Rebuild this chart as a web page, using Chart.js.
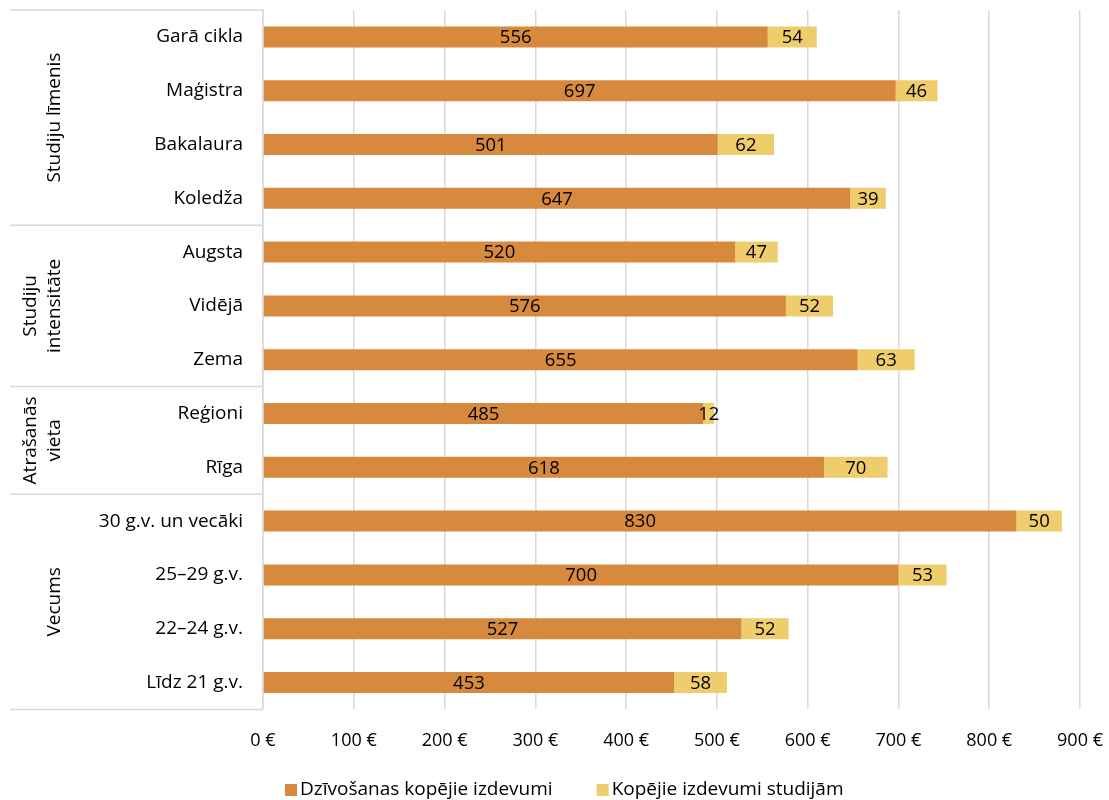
<!DOCTYPE html>
<html>
<head>
<meta charset="utf-8">
<script src="https://cdn.jsdelivr.net/npm/chart.js@4.4.1/dist/chart.umd.min.js"></script>
<style>
  html, body { margin: 0; padding: 0; background: #fff; }
  #wrap { width: 1109px; height: 800px; }
</style>
</head>
<body>
<div id="wrap"><canvas id="grafiks"></canvas></div>
<script>
const kategorijas = ["Garā cikla", "Maģistra", "Bakalaura", "Koledža", "Augsta", "Vidējā", "Zema",
    "Reģioni", "Rīga", "30 g.v. un vecāki", "25–29 g.v.", "22–24 g.v.", "Līdz 21 g.v."];
const dzivosana = [556, 697, 501, 647, 520, 576, 655, 485, 618, 830, 700, 527, 453];
const studijas = [54, 46, 62, 39, 47, 52, 63, 12, 70, 50, 53, 52, 58];
const grupas = [["Studiju līmenis"], ["Studiju", "intensitāte"], ["Atrašanās", "vieta"], ["Vecums"]];
const grupuIzmeri = [4, 3, 2, 4];
const asisTicks = [0, 100, 200, 300, 400, 500, 600, 700, 800, 900];

const fonts = "'Open Sans', 'Noto Sans', sans-serif";

// vērtības joslu vidū
const vertibuPlugin = {
    id: 'vertibas',
    afterDatasetsDraw(chart) {
        const ctx = chart.ctx;
        ctx.save();
        ctx.font = "18.5px " + fonts;
        ctx.fillStyle = "#000";
        ctx.textAlign = "center";
        ctx.textBaseline = "middle";
        chart.data.datasets.forEach((ds, i) => {
            chart.getDatasetMeta(i).data.forEach((bar, j) => {
                const x = (bar.x + bar.base) / 2;
                ctx.fillText(String(ds.data[j]), x, bar.y + 1);
            });
        });
        ctx.restore();
    }
};

// grupu nosaukumi un atdalītāji kreisajā pusē
const grupuPlugin = {
    id: 'grupas',
    afterDraw(chart) {
        const ctx = chart.ctx;
        const y = chart.scales.y;
        const left = 10, right = chart.chartArea.left;
        const step = (y.bottom - y.top) / kategorijas.length;
        ctx.save();
        ctx.strokeStyle = "#d9d9d9";
        ctx.lineWidth = 1.5;
        let idx = 0;
        const robezas = [0];
        grupuIzmeri.forEach(n => { idx += n; robezas.push(idx); });
        robezas.forEach(r => {
            const yy = y.top + r * step;
            ctx.beginPath();
            ctx.moveTo(left, yy);
            ctx.lineTo(right, yy);
            ctx.stroke();
        });
        ctx.font = "19px " + fonts;
        ctx.fillStyle = "#000";
        ctx.textAlign = "center";
        ctx.textBaseline = "middle";
        grupas.forEach((g, k) => {
            const yc = y.top + (robezas[k] + robezas[k + 1]) / 2 * step;
            g.forEach((line, li) => {
                const xc = 55 - (g.length - 1 - li) * 24;
                ctx.save();
                ctx.translate(xc, yc);
                ctx.rotate(-Math.PI / 2);
                ctx.fillText(line, 0, 0);
                ctx.restore();
            });
        });

        // leģenda
        let lx = 285;
        const ly = 790;
        chart.data.datasets.forEach(ds => {
            ctx.fillStyle = ds.backgroundColor;
            ctx.fillRect(lx, ly - 6, 12, 12);
            ctx.fillStyle = "#000";
            ctx.textAlign = "left";
            ctx.fillText(ds.label, lx + 15, ly);
            lx += 15 + ctx.measureText(ds.label).width + 44;
        });
        ctx.restore();
    }
};

new Chart(document.getElementById('grafiks'), {
    type: 'bar',
    data: {
        labels: kategorijas,
        datasets: [{
            label: 'Dzīvošanas kopējie izdevumi',
            data: dzivosana,
            backgroundColor: '#d78a3d',
            categoryPercentage: 0.39,
            barPercentage: 1
        }, {
            label: 'Kopējie izdevumi studijām',
            data: studijas,
            backgroundColor: '#efcd6c',
            categoryPercentage: 0.39,
            barPercentage: 1
        }]
    },
    options: {
        indexAxis: 'y',
        responsive: true,
        maintainAspectRatio: false,
        animation: false,
        layout: { padding: { top: 10, right: 0, left: 0, bottom: 27 } },
        scales: {
            x: {
                stacked: true,
                min: 0,
                max: 900,
                afterBuildTicks(scale) { scale.ticks = asisTicks.map(v => ({ value: v })); },
                afterFit(scale) { scale.paddingLeft = 0; scale.paddingRight = 29; },
                grid: { color: '#d9d9d9', lineWidth: 1.5, drawTicks: false },
                border: { display: false },
                ticks: {
                    padding: 21,
                    color: '#000',
                    font: { family: fonts, size: 18 },
                    callback: v => v + ' €'
                }
            },
            y: {
                stacked: true,
                grid: { display: false, drawTicks: false },
                border: { display: true, color: '#d9d9d9', width: 1.5 },
                afterFit(scale) { scale.width = 263; scale.paddingTop = 0; scale.paddingBottom = 0; },
                ticks: {
                    padding: 20,
                    color: '#000',
                    font: { family: fonts, size: 19 }
                }
            }
        },
        plugins: {
            legend: { display: false },
            tooltip: { enabled: false }
        }
    },
    plugins: [vertibuPlugin, grupuPlugin]
});
</script>
</body>
</html>
